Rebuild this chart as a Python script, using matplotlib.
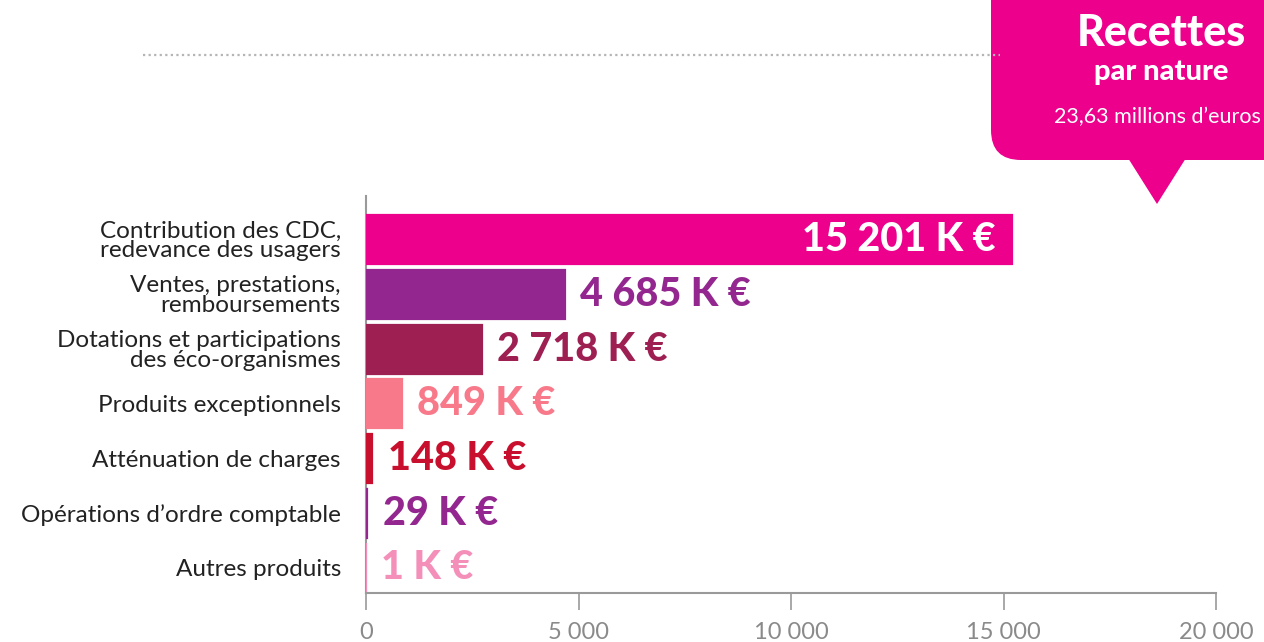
import matplotlib
matplotlib.use("Agg")
import matplotlib.pyplot as plt
from matplotlib.patches import FancyBboxPatch, Polygon
from matplotlib.lines import Line2D

categories = [
    "Contribution des CDC,\nredevance des usagers",
    "Ventes, prestations,\nremboursements",
    "Dotations et participations\ndes éco-organismes",
    "Produits exceptionnels",
    "Atténuation de charges",
    "Opérations d’ordre comptable",
    "Autres produits",
]
values = [15201, 4685, 2718, 849, 148, 29, 1]
value_labels = ["15 201 K €", "4 685 K €", "2 718 K €", "849 K €", "148 K €", "29 K €", "1 K €"]
colors = ["#EC008C", "#93278F", "#9E1F52", "#F7798A", "#C8102E", "#93278F", "#F48FB9"]
xticks = [0, 5000, 10000, 15000, 20000]
xtick_labels = ["0", "5 000", "10 000", "15 000", "20 000"]
title = "Recettes"
subtitle = "par nature"
total = "23,63 millions d’euros"

plt.rcParams['font.family'] = ['Lato', 'DejaVu Sans']

W, H = 1264, 642
fig = plt.figure(figsize=(W / 100, H / 100), dpi=100)

# overlay for decorations (pixel coordinates)
ov = fig.add_axes([0, 0, 1, 1], zorder=0)
ov.set_xlim(0, W)
ov.set_ylim(H, 0)
ov.axis("off")
ov.add_line(Line2D([143, 1000], [55, 55], color="#B5B5B5", lw=1.6, ls=(0, (1, 1.5))))
box = FancyBboxPatch((991, -60), 320, 220, boxstyle="round,pad=0,rounding_size=30",
                     facecolor="#EC008C", edgecolor="none")
ov.add_patch(box)
ov.add_patch(Polygon([[1128, 158], [1186, 158], [1157, 204]], closed=True,
                     facecolor="#EC008C", edgecolor="none"))
ov.text(1161, 33, title, color="white", fontsize=31, fontweight="black", ha="center", va="center")
ov.text(1161, 72, subtitle, color="white", fontsize=21, fontweight="black", ha="center", va="center")
ov.text(1261, 117, total, color="white", fontsize=15.5, fontweight="normal", ha="right", va="center")

ax = fig.add_axes([366 / W, 1 - 593 / H, 850 / W, (593 - 196) / H], zorder=1)
ax.patch.set_alpha(0)
y = list(range(len(categories)))
ax.barh(y, values, height=0.9, color=colors, edgecolor=colors, linewidth=1.6, zorder=3)
ax.set_ylim(6.46, -0.8)
ax.set_xlim(0, 20000)
ax.set_yticks(y)
ax.set_yticklabels(categories, fontsize=17.5, color="#222222", linespacing=0.92)
ax.tick_params(axis="y", length=0, pad=18)
ax.set_xticks(xticks)
ax.set_xticklabels(xtick_labels, fontsize=17, color="#8A8A8A", fontweight="normal")
ax.tick_params(axis="x", length=12, width=1.2, color="#9A9A9A", pad=9)
for s in ["top", "right"]:
    ax.spines[s].set_visible(False)
for s in ["left", "bottom"]:
    ax.spines[s].set_color("#9A9A9A")
    ax.spines[s].set_linewidth(1.5)

for i, (v, lab, c) in enumerate(zip(values, value_labels, colors)):
    if v > 10000:
        ax.annotate(lab, (v, i), xytext=(-12, 0), textcoords="offset points",
                    ha="right", va="center", color="white", fontsize=28.5, fontweight="black")
    else:
        ax.annotate(lab, (v, i), xytext=(11, 0), textcoords="offset points",
                    ha="left", va="center", color=c, fontsize=28.5, fontweight="black")

fig.savefig("out.png", dpi=100)
